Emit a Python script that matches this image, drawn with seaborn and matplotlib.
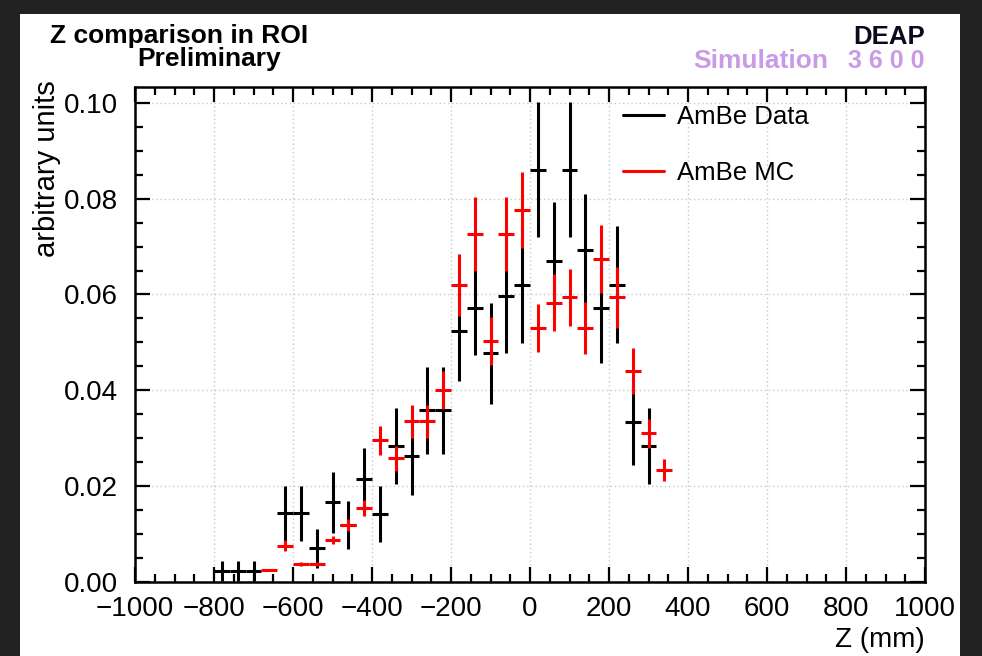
import numpy as np
import pandas as pd
import seaborn as sns
import matplotlib
matplotlib.use("Agg")
import matplotlib.pyplot as plt
from matplotlib.lines import Line2D
from matplotlib.patches import Rectangle
from matplotlib.ticker import MultipleLocator

# AmBe data, bin centres in mm (40 mm bins)
z_data = [-780, -740, -700, -620, -580, -540, -500, -460, -420, -380, -340, -300, -260,
          -220, -180, -140, -100, -60, -20, 20, 60, 100, 140, 180, 220, 260, 300]
y_data = [0.0023, 0.0023, 0.0023, 0.0143, 0.0143, 0.0070, 0.0166, 0.0119, 0.0214, 0.0142,
          0.0284, 0.0262, 0.0358, 0.0358, 0.0523, 0.0571, 0.0477, 0.0597, 0.0620, 0.0860,
          0.0669, 0.0860, 0.0692, 0.0571, 0.0620, 0.0333, 0.0284]
e_data = [0.0020, 0.0020, 0.0020, 0.0057, 0.0057, 0.0040, 0.0063, 0.0050, 0.0066, 0.0058,
          0.0080, 0.0080, 0.0090, 0.0090, 0.0103, 0.0097, 0.0106, 0.0120, 0.0122, 0.0141,
          0.0123, 0.0141, 0.0117, 0.0114, 0.0122, 0.0089, 0.0080]

# AmBe MC
z_mc = [-660, -620, -580, -540, -500, -460, -420, -380, -340, -300, -260, -220, -180,
        -140, -100, -60, -20, 20, 60, 100, 140, 180, 220, 260, 300, 340]
y_mc = [0.0025, 0.0076, 0.0037, 0.0037, 0.0088, 0.0119, 0.0154, 0.0296, 0.0258, 0.0335,
        0.0335, 0.0401, 0.0620, 0.0726, 0.0503, 0.0726, 0.0777, 0.0530, 0.0583, 0.0594,
        0.0530, 0.0674, 0.0594, 0.0441, 0.0310, 0.0234]
e_mc = [0.0003, 0.0011, 0.0004, 0.0004, 0.0008, 0.0012, 0.0017, 0.0030, 0.0026, 0.0034,
        0.0034, 0.0040, 0.0064, 0.0077, 0.0050, 0.0077, 0.0079, 0.0050, 0.0060, 0.0059,
        0.0055, 0.0070, 0.0064, 0.0048, 0.0030, 0.0023]

bin_half = 20

df_data = pd.DataFrame({"z": z_data, "val": y_data, "err": e_data})
df_mc = pd.DataFrame({"z": z_mc, "val": y_mc, "err": e_mc})

sns.set_theme(style="ticks")
plt.rcParams["font.family"] = ["Liberation Sans", "DejaVu Sans"]
plt.rcParams["axes.unicode_minus"] = True
plt.rcParams["text.color"] = "black"
plt.rcParams["axes.labelcolor"] = "black"

fig = plt.figure(figsize=(9.82, 6.56), dpi=100, facecolor="#222222")
# white canvas inside the dark screenshot border
fig.patches.append(Rectangle((20 / 982, 0), 940 / 982, 642 / 656, transform=fig.transFigure,
                             facecolor="white", edgecolor="none", zorder=-5))

ax = fig.add_axes([135 / 982, 74 / 656, 790 / 982, 495 / 656])
ax.set_facecolor("white")

ax.errorbar(df_data["z"], df_data["val"], yerr=df_data["err"], xerr=bin_half,
            fmt="none", ecolor="black", elinewidth=2.2, capsize=0, zorder=3)
ax.errorbar(df_mc["z"], df_mc["val"], yerr=df_mc["err"], xerr=bin_half,
            fmt="none", ecolor="#ff0000", elinewidth=2.2, capsize=0, zorder=4)

ax.set_xlim(-1000, 1000)
ax.set_ylim(0, 0.1033)
ax.xaxis.set_major_locator(MultipleLocator(200))
ax.xaxis.set_minor_locator(MultipleLocator(50))
ax.yaxis.set_major_locator(MultipleLocator(0.02))
ax.yaxis.set_minor_locator(MultipleLocator(0.005))
ax.yaxis.set_major_formatter(matplotlib.ticker.FormatStrFormatter("%.2f"))

ax.grid(True, which="major", color="#c8c8c8", linestyle=(0, (1, 2)), linewidth=1.0)
ax.set_axisbelow(True)

for s in ax.spines.values():
    s.set_linewidth(1.8)
    s.set_color("black")
ax.tick_params(which="both", direction="in", top=True, right=True, width=1.6, colors="black",
               labelsize=20)
ax.tick_params(which="major", length=11)
ax.tick_params(which="minor", length=5.5)
ax.tick_params(axis="x", which="major", pad=10)
ax.tick_params(axis="y", which="major", pad=12)

handles = [Line2D([], [], color="black", lw=2.2), Line2D([], [], color="#ff0000", lw=2.2)]
leg = ax.legend(handles, ["AmBe Data", "AmBe MC"], loc="upper left",
                bbox_to_anchor=(0.588, 1.01), frameon=False, fontsize=18.5,
                handlelength=1.6, handletextpad=0.5, labelspacing=1.25)
for t in leg.get_texts():
    t.set_color("black")

H = 656.0
W = 982.0
fig.text(50 / W, 1 - 43 / H, "Z comparison in ROI", fontsize=19, fontweight="bold",
         ha="left", va="baseline", color="black")
fig.text(137 / W, 1 - 66 / H, "Preliminary", fontsize=19, fontweight="bold",
         ha="left", va="baseline", color="black")
fig.text(925 / W, 1 - 44 / H, "DEAP", fontsize=18.5, fontweight="bold",
         ha="right", va="baseline", color="#0a0a1e")
fig.text(828 / W, 1 - 68 / H, "Simulation", fontsize=19, fontweight="bold",
         ha="right", va="baseline", color="#c99be6")
fig.text(925 / W, 1 - 68 / H, "3 6 0 0", fontsize=18, fontweight="bold",
         ha="right", va="baseline", color="#c99be6")

fig.text(47 / W, 1 - 80 / H, "arbitrary units", fontsize=21, rotation=90,
         ha="center", va="top", color="black")
fig.text(925 / W, 1 - 647 / H, "Z (mm)", fontsize=20, ha="right", va="baseline",
         color="black")

fig.savefig("out.png", dpi=100, facecolor=fig.get_facecolor())
